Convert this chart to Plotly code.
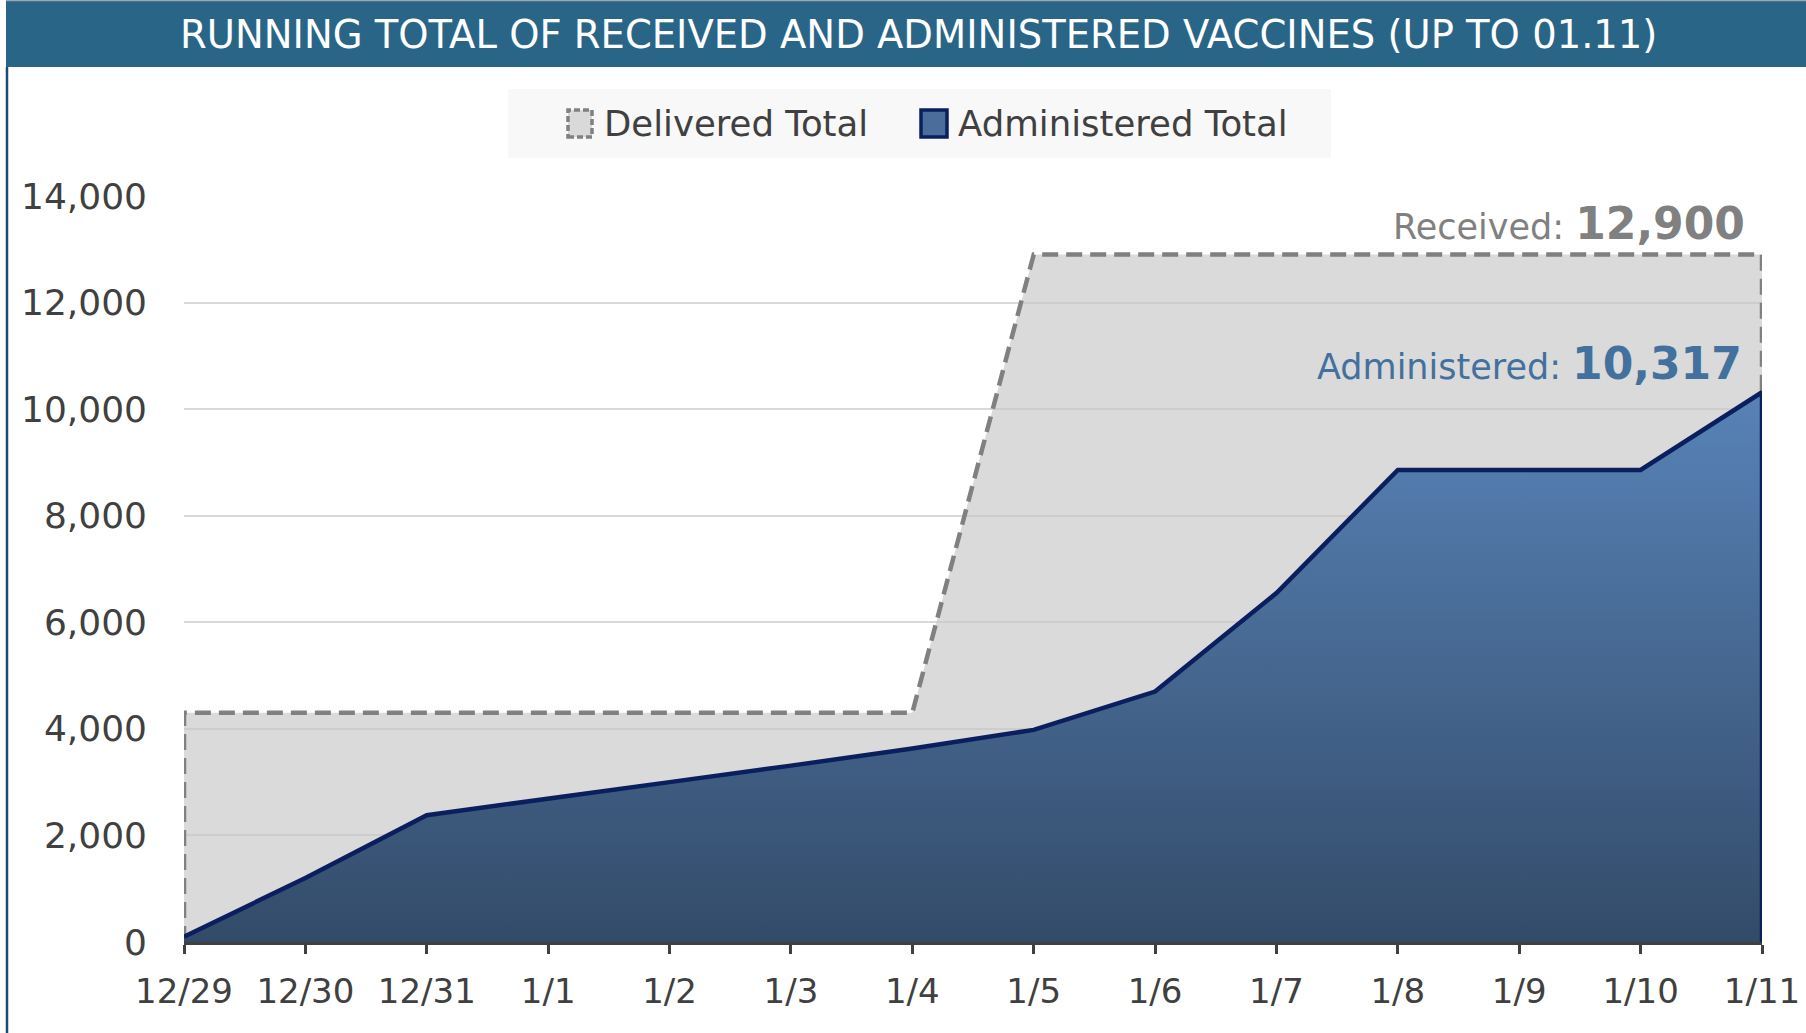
import plotly.graph_objects as go

dates = ["12/29", "12/30", "12/31", "1/1", "1/2", "1/3", "1/4",
         "1/5", "1/6", "1/7", "1/8", "1/9", "1/10", "1/11"]
delivered = [4300, 4300, 4300, 4300, 4300, 4300, 4300,
             12900, 12900, 12900, 12900, 12900, 12900, 12900]
administered = [100, 1200, 2380, 2700, 3000, 3310, 3630,
                3980, 4700, 6550, 8860, 8860, 8860, 10317]
y_ticks = [0, 2000, 4000, 6000, 8000, 10000, 12000, 14000]
series_names = ["Delivered Total", "Administered Total"]

title_text = "RUNNING TOTAL OF RECEIVED AND ADMINISTERED VACCINES (UP TO 01.11)"
FONT = "DejaVu Sans, sans-serif"

xi = list(range(len(dates)))

fig = go.Figure()

# Delivered total: grey area with dashed outline (including vertical edges)
fig.add_trace(go.Scatter(
    x=[xi[0]] + xi + [xi[-1]],
    y=[0] + delivered + [0],
    mode="lines",
    name=series_names[0],
    line=dict(color="#808080", width=4.5, dash="16px,8px"),
    fill="tozeroy",
    fillcolor="rgba(199,199,199,0.66)",
    hoverinfo="skip",
))

# Administered total: gradient blue area with navy outline
fig.add_trace(go.Scatter(
    x=xi + [xi[-1]],
    y=administered + [0],
    mode="lines",
    name=series_names[1],
    line=dict(color="#0b1f5e", width=4.5),
    fill="tozeroy",
    fillgradient=dict(type="vertical", start=0, stop=12000,
                      colorscale=[[0, "#334b69"], [1, "#5e8cc4"]]),
))

W, H = 1806, 1033
L, R, T, B = 184, 44, 196, 91
pw, ph = W - L - R, H - T - B

def px_x(p):
    return (p - L) / pw

def px_y(p):
    return (H - B - p) / ph

shapes = [
    # title bar
    dict(type="rect", xref="paper", yref="paper", layer="above",
         x0=px_x(6), x1=px_x(W + 5), y0=px_y(67), y1=px_y(1),
         fillcolor="#296587", line=dict(width=0)),
    # top thin grey line
    dict(type="line", xref="paper", yref="paper",
         x0=px_x(6), x1=px_x(W + 5), y0=px_y(0.5), y1=px_y(0.5),
         line=dict(color="#9aa8b0", width=1.5)),
    # left border
    dict(type="line", xref="paper", yref="paper",
         x0=px_x(7), x1=px_x(7), y0=px_y(67), y1=px_y(H + 5),
         line=dict(color="#1d4d6b", width=2.5)),
    # legend background
    dict(type="rect", xref="paper", yref="paper", layer="below",
         x0=px_x(508), x1=px_x(1331), y0=px_y(158), y1=px_y(89),
         fillcolor="#f8f8f8", line=dict(width=0)),
    # legend swatch: delivered
    dict(type="rect", xref="paper", yref="paper", layer="above",
         x0=px_x(568), x1=px_x(592), y0=px_y(137), y1=px_y(110),
         fillcolor="#d9d9d9", line=dict(color="#808080", width=3.5, dash="6px,3px")),
    # legend swatch: administered
    dict(type="rect", xref="paper", yref="paper", layer="above",
         x0=px_x(921), x1=px_x(947), y0=px_y(137), y1=px_y(110),
         fillcolor="#4a6d9c", line=dict(color="#0b1f5e", width=3.5)),
]

annotations = [
    dict(xref="paper", yref="paper", x=px_x(918), y=px_y(35),
         text=title_text, showarrow=False, xanchor="center", yanchor="middle",
         font=dict(family=FONT, size=38.5, color="white")),
    dict(xref="paper", yref="paper", x=px_x(602), y=px_y(123),
         text=series_names[0], showarrow=False, xanchor="left", yanchor="middle",
         font=dict(family=FONT, size=35.5, color="#404040")),
    dict(xref="paper", yref="paper", x=px_x(956), y=px_y(123),
         text=series_names[1], showarrow=False, xanchor="left", yanchor="middle",
         font=dict(family=FONT, size=35.5, color="#404040")),
    dict(x=xi[-1], y=delivered[-1], xref="x", yref="y",
         text=("Received: <span style='font-family:DejaVu Sans;font-weight:bold;font-size:44px'>"
               f"{delivered[-1]:,}</span>"),
         showarrow=False, xanchor="right", yanchor="bottom", xshift=-15, yshift=4,
         font=dict(family=FONT, size=35, color="#808080")),
    dict(x=xi[-1], y=administered[-1], xref="x", yref="y",
         text=("Administered: <span style='font-family:DejaVu Sans;font-weight:bold;font-size:44px'>"
               f"{administered[-1]:,}</span>"),
         showarrow=False, xanchor="right", yanchor="bottom", xshift=-18, yshift=1,
         font=dict(family=FONT, size=35, color="#44709d")),
]

fig.update_layout(
    width=W, height=H,
    margin=dict(l=L, r=R, t=T, b=B, pad=0, autoexpand=False),
    paper_bgcolor="white", plot_bgcolor="white",
    showlegend=False,
    shapes=shapes,
    annotations=annotations,
    xaxis=dict(
        range=[xi[0], xi[-1]],
        automargin=False,
        tickmode="array", tickvals=xi, ticktext=dates,
        showgrid=False, zeroline=False,
        showline=True, linecolor="#404040", linewidth=3,
        ticks="outside", ticklen=9, tickwidth=2.5, tickcolor="#404040",
        tickfont=dict(family=FONT, size=34, color="#404040"),
        ticklabelstandoff=8, ticklabeloverflow="allow",
    ),
    yaxis=dict(
        range=[0, 14000],
        automargin=False,
        tickmode="array", tickvals=y_ticks,
        tickformat=",d",
        showgrid=True, gridcolor="#d9d9d9", gridwidth=1.5,
        zeroline=False, showline=False,
        tickfont=dict(family=FONT, size=36, color="#404040"),
        ticklabelstandoff=36,
    ),
)

fig.write_html("out.html", config={"displayModeBar": False},
               post_script="document.body.style.margin='0';document.body.style.overflow='hidden';")
